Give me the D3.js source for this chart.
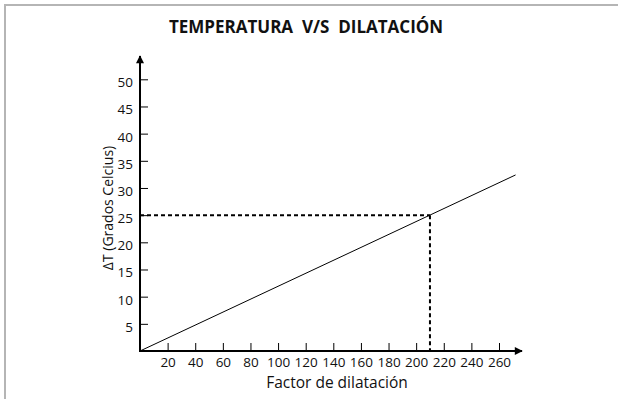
<!DOCTYPE html>
<html>
<head>
<meta charset="utf-8">
<script src="https://cdn.jsdelivr.net/npm/d3@7"></script>
<style>
  html, body { margin: 0; padding: 0; background: #fff; }
  svg { display: block; font-family: "Open Sans", sans-serif; }
</style>
</head>
<body>
<svg id="chart" width="618" height="399"></svg>
<script>
// Temperature change vs. dilatation factor
const title = "TEMPERATURA  V/S  DILATACIÓN";
const xLabel = "Factor de dilatación";
const yLabel = "ΔT (Grados Celcius)";
const xTicks = [20, 40, 60, 80, 100, 120, 140, 160, 180, 200, 220, 240, 260];
const yTicks = [5, 10, 15, 20, 25, 30, 35, 40, 45, 50];
const lineX = [0, 272];
const lineY = [0, 32.4];
const markX = [210];
const markY = [25];

const FONT = "'Open Sans', sans-serif";
const svg = d3.select("#chart");

// frame edges
svg.append("line").attr("x1", 4).attr("x2", 618).attr("y1", 5).attr("y2", 5)
  .attr("stroke", "#b5b5b5").attr("stroke-width", 2);
svg.append("line").attr("x1", 5).attr("x2", 5).attr("y1", 4).attr("y2", 399)
  .attr("stroke", "#b5b5b5").attr("stroke-width", 2);

const x = d3.scaleLinear().domain([0, 260]).range([140, 499]);
const y = d3.scaleLinear().domain([0, 50]).range([351, 79.3]);

svg.append("text").attr("x", 306).attr("y", 33).attr("text-anchor", "middle")
  .attr("font-size", 17).attr("font-weight", "bold").attr("fill", "#111")
  .style("white-space", "pre").text(title);

// arrow markers
const defs = svg.append("defs");
defs.append("marker").attr("id", "arrow").attr("viewBox", "0 0 10 10")
  .attr("refX", 9).attr("refY", 5).attr("markerWidth", 5).attr("markerHeight", 4)
  .attr("markerUnits", "strokeWidth").attr("orient", "auto")
  .append("path").attr("d", "M0,0 L10,5 L0,10 Z").attr("fill", "#000");

// axes with inward ticks
const xAxis = d3.axisTop(x).tickValues(xTicks).tickSize(8).tickFormat(d3.format("d"));
const gx = svg.append("g").attr("transform", `translate(0,${y(0)})`).call(xAxis);
gx.select(".domain").remove();
gx.selectAll(".tick line").attr("stroke", "#000").attr("stroke-width", 1);
gx.selectAll(".tick text").attr("y", 6).attr("dy", "0.71em")
  .attr("font-size", 13.5).attr("font-family", FONT).attr("fill", "#111");

const yAxis = d3.axisRight(y).tickValues(yTicks).tickSize(8).tickFormat(d3.format("d"));
const gy = svg.append("g").attr("transform", `translate(${x(0)},0)`).call(yAxis);
gy.select(".domain").remove();
gy.selectAll(".tick line").attr("stroke", "#000").attr("stroke-width", 1);
gy.selectAll(".tick text").attr("x", -7).attr("dy", "0.55em").attr("text-anchor", "end")
  .attr("font-size", 13.5).attr("font-family", FONT).attr("fill", "#111");

svg.append("line").attr("x1", x(0) - 1).attr("x2", 522).attr("y1", y(0)).attr("y2", y(0))
  .attr("stroke", "#000").attr("stroke-width", 2).attr("marker-end", "url(#arrow)");
svg.append("line").attr("x1", x(0)).attr("x2", x(0)).attr("y1", y(0) + 1).attr("y2", 56)
  .attr("stroke", "#000").attr("stroke-width", 2).attr("marker-end", "url(#arrow)");

// guide lines to the marked point
svg.append("line").attr("x1", x(0)).attr("x2", x(markX[0])).attr("y1", y(markY[0])).attr("y2", y(markY[0]))
  .attr("stroke", "#000").attr("stroke-width", 2).attr("stroke-dasharray", "4,3");
svg.append("line").attr("x1", x(markX[0])).attr("x2", x(markX[0])).attr("y1", y(markY[0])).attr("y2", y(0))
  .attr("stroke", "#000").attr("stroke-width", 2).attr("stroke-dasharray", "4,3");

// main line
const lineData = lineX.map((v, i) => [v, lineY[i]]);
svg.append("path").datum(lineData)
  .attr("d", d3.line().x(d => x(d[0])).y(d => y(d[1])))
  .attr("fill", "none").attr("stroke", "#000").attr("stroke-width", 1);

// axis titles
svg.append("text").attr("x", 337).attr("y", 388).attr("text-anchor", "middle")
  .attr("font-size", 15.5).attr("fill", "#111").text(xLabel);
svg.append("text").attr("transform", `translate(113,208) rotate(-90)`)
  .attr("text-anchor", "middle").attr("font-size", 14).attr("fill", "#111").text(yLabel);
</script>
</body>
</html>
